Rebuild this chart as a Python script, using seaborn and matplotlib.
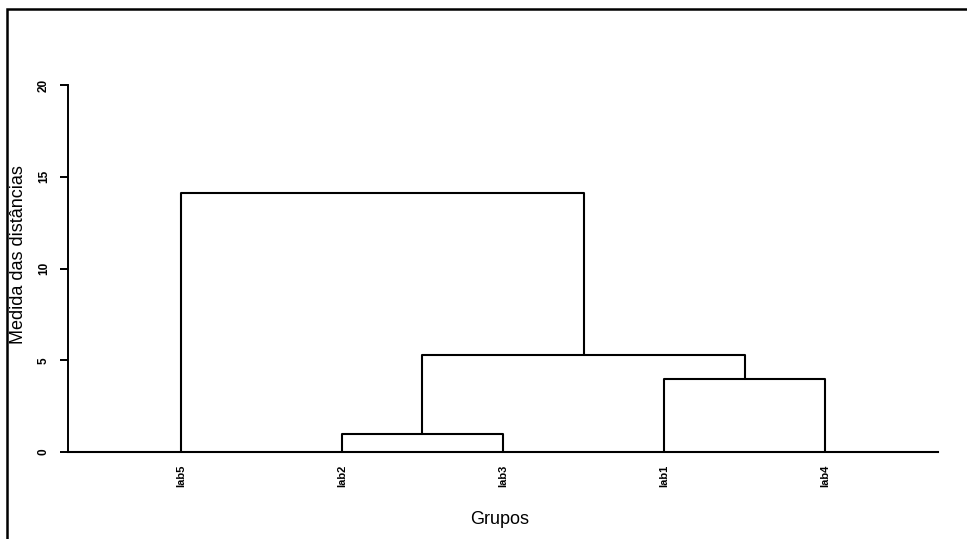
import matplotlib
matplotlib.use("Agg")
import matplotlib.pyplot as plt
from matplotlib.patches import Rectangle
import pandas as pd
import seaborn as sns

# Leaf order along the x axis and the agglomeration steps (left, right, height)
leaves = ["lab5", "lab2", "lab3", "lab1", "lab4"]
merge_left = ["lab2", "lab1", "lab2+lab3", "lab5"]
merge_right = ["lab3", "lab4", "lab1+lab4", "lab2+lab3+lab1+lab4"]
merge_height = [1.0, 4.0, 5.3, 14.1]

y_ticks = [0, 5, 10, 15, 20]

# Build the U-shaped segments of the dendrogram
pos = {name: i + 1 for i, name in enumerate(leaves)}
hgt = {name: 0.0 for name in leaves}
rows = []
for k, (a, b, h) in enumerate(zip(merge_left, merge_right, merge_height)):
    xa, xb = pos[a], pos[b]
    pts = [(xa, hgt[a]), (xa, h), (xb, h), (xb, hgt[b])]
    for j, (x, y) in enumerate(pts):
        rows.append({"link": k, "order": j, "x": x, "y": y})
    new = a + "+" + b
    pos[new] = (xa + xb) / 2
    hgt[new] = h
segs = pd.DataFrame(rows)

sns.set_style("white")
plt.rcParams["font.family"] = ["Liberation Sans", "DejaVu Sans"]
plt.rcParams["text.color"] = "black"
plt.rcParams["axes.labelcolor"] = "black"
plt.rcParams["xtick.color"] = "black"
plt.rcParams["ytick.color"] = "black"

fig = plt.figure(figsize=(9.67, 5.39), dpi=100)
ax = fig.add_axes([68 / 967, 87 / 539, 870 / 967, 367 / 539])

sns.lineplot(data=segs, x="x", y="y", units="link", estimator=None,
             sort=False, color="black", linewidth=1.5, ax=ax)

ax.set_xlim(0.3, 5.7)
ax.set_ylim(0, 20)
ax.set_xticks(range(1, len(leaves) + 1))
ax.set_xticklabels(leaves, rotation=90, va="top", fontsize=8, fontweight="bold")
ax.set_yticks(y_ticks)
ax.set_yticklabels([str(t) for t in y_ticks], rotation=90, va="center",
                   fontsize=8.5, fontweight="bold")
ax.tick_params(axis="x", length=0, pad=9)
ax.tick_params(axis="y", length=6, width=1.4, pad=7, left=True)

for side in ["top", "right"]:
    ax.spines[side].set_visible(False)
ax.spines["left"].set_color("black")
ax.spines["left"].set_linewidth(1.4)
ax.spines["bottom"].set_color("black")
ax.spines["bottom"].set_linewidth(1.5)
ax.spines["bottom"].set_zorder(0)

ax.set_xlabel("Grupos", fontsize=13, va="center")
ax.xaxis.set_label_coords((500 - 68) / 870, (452 - 520) / 367)
ax.set_ylabel("Medida das distâncias", fontsize=13, va="center",
              rotation_mode="anchor")
ax.yaxis.set_label_coords((19 - 68) / 870, (452 - 255) / 367)

# Frame around the figure (left and top edges visible)
fig.patches.append(Rectangle((7 / 967, -0.2), 1.2, (539 - 9) / 539 + 0.2,
                             transform=fig.transFigure, fill=False,
                             edgecolor="black", linewidth=1.8))

fig.savefig("out.png", dpi=100)
